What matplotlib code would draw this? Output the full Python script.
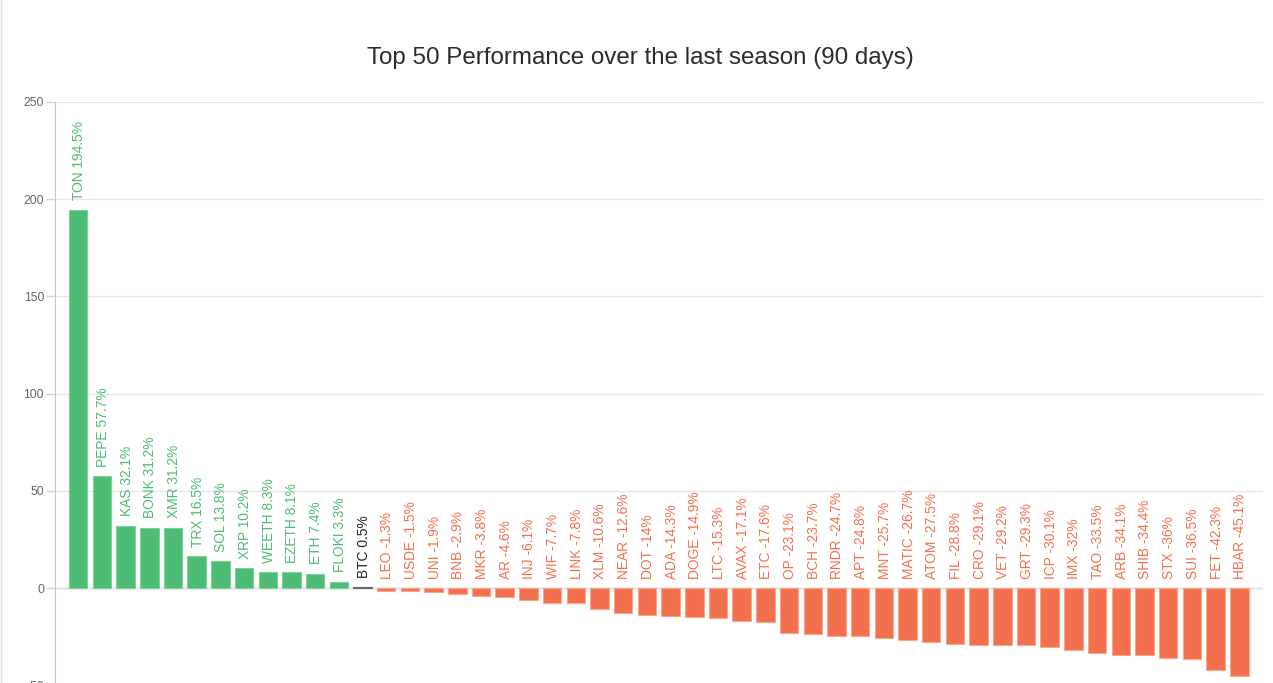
import matplotlib
matplotlib.use('Agg')
import matplotlib.pyplot as plt
from matplotlib.lines import Line2D

plt.rcParams['font.family'] = ['Liberation Sans', 'DejaVu Sans']

names = ['TON', 'PEPE', 'KAS', 'BONK', 'XMR', 'TRX', 'SOL', 'XRP', 'WEETH', 'EZETH',
         'ETH', 'FLOKI', 'BTC', 'LEO', 'USDE', 'UNI', 'BNB', 'MKR', 'AR', 'INJ',
         'WIF', 'LINK', 'XLM', 'NEAR', 'DOT', 'ADA', 'DOGE', 'LTC', 'AVAX', 'ETC',
         'OP', 'BCH', 'RNDR', 'APT', 'MNT', 'MATIC', 'ATOM', 'FIL', 'CRO', 'VET',
         'GRT', 'ICP', 'IMX', 'TAO', 'ARB', 'SHIB', 'STX', 'SUI', 'FET', 'HBAR']
perf = [194.5, 57.7, 32.1, 31.2, 31.2, 16.5, 13.8, 10.2, 8.3, 8.1,
        7.4, 3.3, 0.5, -1.3, -1.5, -1.9, -2.9, -3.8, -4.6, -6.1,
        -7.7, -7.8, -10.6, -12.6, -14, -14.3, -14.9, -15.3, -17.1, -17.6,
        -23.1, -23.7, -24.7, -24.8, -25.7, -26.7, -27.5, -28.8, -29.1, -29.2,
        -29.3, -30.1, -32, -33.5, -34.1, -34.4, -36, -36.5, -42.3, -45.1]
yticks = [-50, 0, 50, 100, 150, 200, 250]

GREEN = '#4dbc74'
RED = '#f3704e'
W, H = 1273, 683

def color_for(name, v):
    if name == 'BTC':
        return '#222222'
    return GREEN if v > 0 else RED

fig = plt.figure(figsize=(W / 100, H / 100), dpi=100)
# axes runs off the bottom of the picture, like the cropped screenshot
left, right, top, bottom = 54.5, 1263, 102, 782.7
ax = fig.add_axes([left / W, 1 - bottom / H, (right - left) / W, (bottom - top) / H])
ax.set_xlim(-1, 50)
ax.set_ylim(-100, 250)

cols = [color_for(n, v) for n, v in zip(names, perf)]
edges = ['#666666' if n == 'BTC' else ('#7fd19b' if v > 0 else '#f9a68f') for n, v in zip(names, perf)]
ax.bar(range(len(perf)), perf, width=0.78, color=cols, edgecolor=edges, linewidth=0.8, zorder=3)

for i, (n, v) in enumerate(zip(names, perf)):
    ax.annotate(f'{n} {v:g}%', (i, max(v, 0)), xytext=(0.7, 6.8), textcoords='offset points',
                rotation=90, ha='center', va='bottom', fontsize=9.9, color=cols[i], zorder=4)

ax.set_yticks(yticks)
ax.set_xticks([])
ax.grid(axis='y', color='#e6e6e6', linewidth=1, zorder=0)
ax.axhline(0, color='#bdbdbd', linewidth=1, zorder=1)
ax.tick_params(axis='y', length=6.5, width=1, color='#d5d5d5', labelcolor='#666666', labelsize=8.8, pad=1)
for s in ['top', 'right', 'bottom']:
    ax.spines[s].set_visible(False)
ax.spines['left'].set_color('#c4c4c4')

fig.text(640.5 / W, 1 - 58 / H, 'Top 50 Performance over the last season (90 days)',
         ha='center', va='center', fontsize=17.4, color='#2b2b2b')
fig.add_artist(Line2D([1.3 / W, 1.3 / W], [0, 1], color='#e2e2e2', linewidth=1))

fig.savefig('out.png', dpi=100)
